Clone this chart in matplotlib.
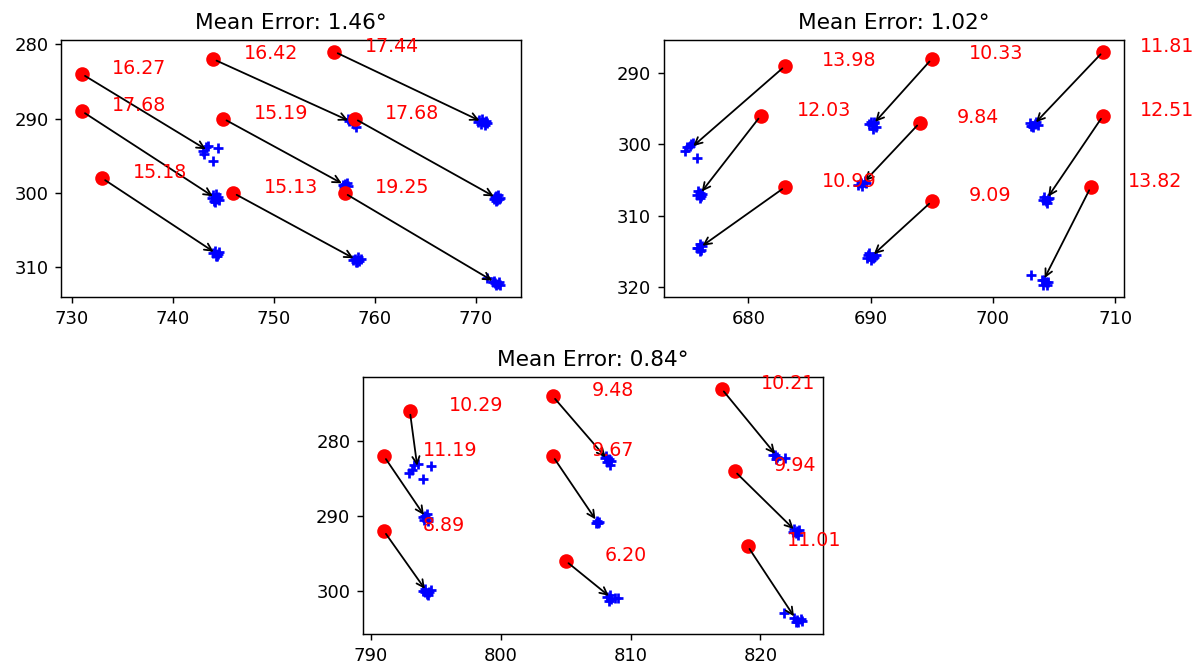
import matplotlib
matplotlib.use("Agg")
import matplotlib.pyplot as plt
from matplotlib.ticker import MultipleLocator
import numpy as np

# ground truth points (red), one per target
GT_1 = [(731, 284), (744, 282), (756, 281),
        (731, 289), (745, 290), (758, 290),
        (733, 298), (746, 300), (757, 300)]
GT_2 = [(683, 289), (695, 288), (709, 287),
        (681, 296), (694, 297), (709, 296),
        (683, 306), (695, 308), (708, 306)]
GT_3 = [(793, 276), (804, 274), (817, 273),
        (791, 282), (804, 282), (818, 284),
        (791, 292), (805, 296), (819, 294)]

# predicted points (blue +), one cluster per ground truth point
PRED_1 = [
    [(743.3, 293.8), (744.5, 293.9), (743.1, 294.8), (744.0, 295.7), (743.5, 293.7), (743.0, 294.3)],
    [(757.6, 290.1), (758.1, 291.1), (757.3, 290.0), (757.8, 290.4), (757.4, 290.3), (757.9, 290.7)],
    [(770.3, 290.2), (770.8, 290.5), (771.0, 290.3), (770.5, 290.7), (770.2, 290.5), (771.1, 290.6),
     (770.6, 290.1), (770.9, 290.8)],
    [(744.0, 300.3), (744.4, 300.8), (744.2, 301.2), (744.5, 300.5), (743.9, 300.7), (744.3, 300.1),
     (744.1, 301.0), (744.6, 300.9)],
    [(757.0, 298.8), (757.3, 299.1), (756.9, 299.2), (757.2, 298.6), (756.8, 298.9)],
    [(771.9, 300.5), (772.3, 300.8), (772.0, 301.1), (772.2, 300.3), (771.8, 300.8), (772.4, 300.6),
     (772.1, 300.9), (772.0, 300.4)],
    [(744.2, 307.8), (744.5, 308.2), (744.3, 308.5), (744.0, 308.1), (744.6, 307.9), (744.4, 308.4)],
    [(758.0, 308.8), (758.4, 309.1), (758.2, 309.3), (757.8, 309.0), (758.6, 308.9), (758.3, 308.6),
     (758.1, 309.2)],
    [(771.8, 311.8), (772.2, 312.2), (772.0, 312.4), (771.1, 311.4), (772.3, 311.9), (771.9, 312.1),
     (772.4, 312.3), (771.7, 312.0)],
]
PRED_2 = [
    [(675.3, 300.0), (675.0, 300.4), (674.8, 301.0), (675.8, 301.9), (675.5, 299.8), (675.2, 300.3)],
    [(690.0, 296.8), (690.3, 297.0), (690.1, 297.3), (690.4, 297.6), (689.9, 297.1), (690.2, 297.9),
     (690.3, 296.9)],
    [(703.0, 297.0), (703.4, 297.2), (703.2, 297.5), (703.7, 297.3), (703.1, 297.4), (703.5, 296.9),
     (703.3, 297.6)],
    [(676.0, 306.8), (676.1, 307.2), (675.9, 306.6), (676.0, 307.5), (676.2, 307.0), (675.8, 307.1)],
    [(689.2, 305.4), (689.5, 305.2), (689.0, 305.7), (689.3, 305.9), (689.6, 305.5)],
    [(704.2, 307.4), (704.5, 307.7), (704.3, 308.0), (704.6, 307.5), (704.1, 307.8), (704.4, 308.2)],
    [(676.0, 314.0), (675.8, 314.5), (676.1, 314.8), (676.2, 314.3), (675.9, 314.6), (676.0, 315.0)],
    [(689.8, 315.5), (690.2, 315.9), (690.0, 316.2), (690.4, 315.6), (689.9, 315.3), (690.3, 315.8),
     (689.7, 316.0)],
    [(703.1, 318.4), (704.0, 319.0), (704.3, 319.4), (704.1, 319.7), (704.5, 319.3), (704.2, 319.1),
     (704.4, 319.8)],
]
PRED_3 = [
    [(793.3, 283.2), (793.6, 283.0), (792.9, 284.2), (794.6, 283.3), (794.0, 285.1), (793.2, 283.8)],
    [(808.1, 282.0), (808.3, 282.4), (808.4, 283.2), (808.0, 282.2), (808.5, 282.6), (808.2, 282.8)],
    [(821.0, 281.8), (821.3, 282.1), (821.9, 282.2), (821.2, 282.4), (821.1, 281.9)],
    [(794.2, 290.0), (794.4, 290.3), (794.1, 290.6), (794.3, 289.8), (794.0, 290.2), (794.4, 290.7)],
    [(807.4, 290.7), (807.5, 291.0), (807.3, 290.9), (807.6, 290.8)],
    [(822.6, 291.7), (822.8, 292.0), (822.7, 292.3), (823.0, 291.9), (822.5, 292.1), (822.9, 292.5)],
    [(794.2, 299.8), (794.5, 300.1), (794.3, 300.4), (794.0, 300.0), (794.6, 299.9), (794.2, 300.2),
     (794.4, 300.5)],
    [(808.2, 300.8), (808.5, 301.1), (808.8, 301.0), (808.3, 301.4), (809.0, 300.9), (808.4, 300.6)],
    [(821.8, 303.0), (822.6, 303.6), (822.8, 303.9), (823.1, 303.8), (822.7, 304.2), (823.2, 304.0),
     (822.9, 304.1)],
]

# angle labels next to each ground truth point
ERR_1 = ["16.27", "16.42", "17.44", "17.68", "15.19", "17.68", "15.18", "15.13", "19.25"]
ERR_2 = ["13.98", "10.33", "11.81", "12.03", "9.84", "12.51", "10.99", "9.09", "13.82"]
ERR_3 = ["10.29", "9.48", "10.21", "11.19", "9.67", "9.94", "8.89", "6.20", "11.01"]

MEAN_ERR = [1.46, 1.02, 0.84]

# axes rectangles in figure fractions (left, bottom, width, height)
AX_RECTS = [
    [0.0512, 0.5547, 0.3859, 0.3853],
    [0.5570, 0.5547, 0.3859, 0.3853],
    [0.3045, 0.0495, 0.3859, 0.3853],
]


def plot_panel(ax, gt, preds, errs, mean_err):
    for cluster in preds:
        pts = np.array(cluster)
        ax.scatter(pts[:, 0], pts[:, 1], marker="+", color="blue")

    gt = np.array(gt)
    ax.scatter(gt[:, 0], gt[:, 1], s=50, color="red")

    for (gx, gy), cluster, label in zip(gt, preds, errs):
        px, py = np.array(cluster).mean(axis=0)
        ax.annotate("", xy=(px, py), xytext=(gx, gy),
                    arrowprops=dict(arrowstyle="->", color="black"))
        ax.text(gx + 3, gy, label, color="red", fontsize=10.5)

    ax.invert_yaxis()
    ax.xaxis.set_major_locator(MultipleLocator(10))
    ax.yaxis.set_major_locator(MultipleLocator(10))
    ax.set_title(f"Mean Error: {mean_err:.2f}\u00b0")


if __name__ == "__main__":
    fig = plt.figure(figsize=(1192 / 130, 667 / 130), dpi=130)

    panels = [(GT_1, PRED_1, ERR_1), (GT_2, PRED_2, ERR_2), (GT_3, PRED_3, ERR_3)]
    for rect, (gt, preds, errs), m in zip(AX_RECTS, panels, MEAN_ERR):
        ax = fig.add_axes(rect)
        plot_panel(ax, gt, preds, errs, m)

    plt.savefig("out.png", dpi=130)
